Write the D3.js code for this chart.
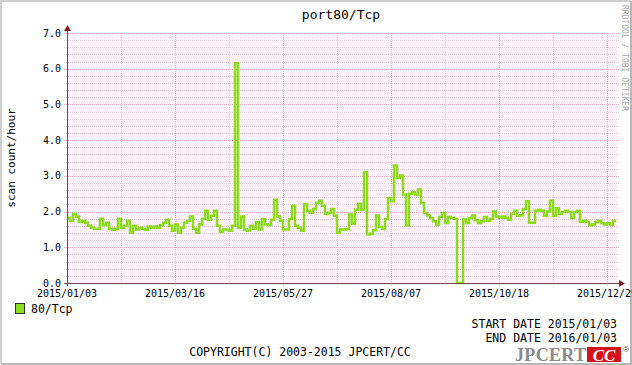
<!DOCTYPE html>
<html><head><meta charset="utf-8">
<script src="https://cdn.jsdelivr.net/npm/d3@7"></script>
<style>html,body{margin:0;padding:0;background:#fff}svg{display:block}</style>
</head><body>
<svg id="c" width="632" height="365"></svg>
<script>
// ---- data ----
const title = "port80/Tcp";
const seriesName = "80/Tcp";
const yLabel = "scan count/hour";
const startDate = "2015-01-03";
const stepDays = 2;
const values = [
1.83,1.74,1.93,1.86,1.71,1.74,1.69,1.60,1.55,1.52,
1.52,1.80,1.62,1.69,1.52,1.49,1.52,1.80,1.55,1.60,
1.74,1.41,1.60,1.50,1.55,1.52,1.49,1.58,1.55,1.58,
1.55,1.62,1.69,1.77,1.60,1.46,1.64,1.41,1.55,1.69,
1.74,1.86,1.52,1.41,1.64,1.79,
2.02,1.77,1.88,2.02,1.60,1.43,1.50,1.50,1.46,1.60,
6.15,1.55,1.86,1.50,1.46,1.60,1.52,1.71,1.50,1.79,
1.64,1.62,1.77,2.33,1.86,1.74,1.50,1.50,1.79,2.16,
1.60,1.55,1.46,2.21,2.02,1.97,2.07,2.25,2.30,2.16,
1.93,1.97,2.07,1.88,1.41,1.50,
1.50,1.51,1.92,1.66,2.06,2.22,2.06,3.10,1.36,1.38,
1.48,1.89,1.57,1.51,1.79,2.38,2.29,3.29,2.94,3.01,
2.48,1.61,2.50,2.54,2.48,2.62,2.24,1.96,1.89,1.82,
1.73,1.64,1.85,1.96,1.68,1.85,1.82,1.79,0,0,
1.78,1.68,1.82,1.89,1.76,1.68,1.73,1.85,
1.74,1.80,2.00,1.86,1.83,1.86,1.83,1.77,1.93,2.02,
1.88,1.90,2.07,2.29,1.69,1.69,2.02,2.05,2.02,1.88,
2.00,2.30,1.88,2.09,1.93,1.99,2.02,1.99,1.83,1.99,
2.02,1.71,1.74,1.71,1.62,1.64,1.71,1.74,1.67,1.64,
1.67,1.64,1.74
];
const xTickLabels = ["2015/01/03","2015/03/16","2015/05/27","2015/08/07","2015/10/18","2015/12/29"];
const xMinorDates = ["2015/02/08","2015/04/21","2015/07/02","2015/09/12","2015/11/23"];
const yTicks = [0,1,2,3,4,5,6,7];
const yMinorStep = 0.2;
const startText = "START DATE 2015/01/03";
const endText = "END DATE 2016/01/03";
const copyright = "COPYRIGHT(C) 2003-2015 JPCERT/CC";

// ---- layout ----
const L = 67, R = 617, T = 33, B = 283;
const DAY = 86400000;
const parse = d3.utcParse("%Y/%m/%d");
const t0 = d3.utcParse("%Y-%m-%d")(startDate);
const x = d3.scaleUtc().domain([t0, new Date(+t0 + (R - L) / 1.5 * DAY)]).range([L, R]);
const y = d3.scaleLinear().domain([0, 7]).range([B, T]);
const mono = "'DejaVu Sans Mono', monospace";

const svg = d3.select("#c");
svg.append("rect").attr("width",632).attr("height",365).attr("fill","#fff");
// frame
svg.append("path").attr("d","M1,364V1H631").attr("fill","none").attr("stroke","#cfcfcf").attr("stroke-width",2);
svg.append("path").attr("d","M631,1V364H1").attr("fill","none").attr("stroke","#b8b8b8").attr("stroke-width",2);

// plot bg
svg.append("rect").attr("x",L).attr("y",T).attr("width",R-L).attr("height",B-T).attr("fill","#fff0fb");

// minor horizontal grid
const minorY = d3.range(0, 7.0001, yMinorStep).filter(v => Math.abs(v - Math.round(v)) > 1e-6);
svg.append("g").selectAll("line").data(minorY).join("line")
  .attr("x1",L-3).attr("x2",R+2).attr("y1",d=>Math.round(y(d))+0.5).attr("y2",d=>Math.round(y(d))+0.5)
  .attr("stroke","#e0d0da").attr("stroke-dasharray","1,1");
// minor vertical grid
svg.append("g").selectAll("line").data(xMinorDates.map(parse)).join("line")
  .attr("x1",d=>Math.round(x(d))+0.5).attr("x2",d=>Math.round(x(d))+0.5).attr("y1",T).attr("y2",B+2)
  .attr("stroke","#e4ccdc").attr("stroke-dasharray","1,1");
// major grid
svg.append("g").selectAll("line").data(yTicks.filter(v=>v>0)).join("line")
  .attr("x1",L-3).attr("x2",R+2).attr("y1",d=>Math.round(y(d))+0.5).attr("y2",d=>Math.round(y(d))+0.5)
  .attr("stroke","#eab0c0").attr("stroke-dasharray","1,1");
svg.append("g").selectAll("line").data(xTickLabels.slice(1).map(parse)).join("line")
  .attr("x1",d=>Math.round(x(d))+0.5).attr("x2",d=>Math.round(x(d))+0.5).attr("y1",T).attr("y2",B+3)
  .attr("stroke","#eab0c0").attr("stroke-dasharray","1,1");

// data line
const pts = values.map((v,i)=>({d:new Date(+t0 + i*stepDays*DAY), v}));
pts.push({d:new Date(+t0 + values.length*stepDays*DAY), v:values[values.length-1]});
svg.append("path").datum(pts)
  .attr("d", d3.line().x(p=>x(p.d)).y(p=>y(p.v)).curve(d3.curveStepAfter))
  .attr("fill","none").attr("stroke","#8cdc1e").attr("stroke-width",2.5).attr("stroke-linejoin","miter");

// axes
svg.append("line").attr("x1",L-3).attr("x2",R+3).attr("y1",B+0.5).attr("y2",B+0.5).attr("stroke","#6e4a4a");
svg.append("line").attr("x1",L+0.5).attr("x2",L+0.5).attr("y1",B+3).attr("y2",T-3).attr("stroke","#6e4a4a");
svg.append("path").attr("d",`M${R+2},${B-3}L${R+8},${B+0.5}L${R+2},${B+4}Z`).attr("fill","#8b1a1a");
svg.append("path").attr("d",`M${L-3},${T-2}L${L+0.5},${T-8}L${L+4},${T-2}Z`).attr("fill","#8b1a1a");

// y labels
svg.append("g").selectAll("text").data(yTicks).join("text")
  .attr("x",61).attr("y",d=>y(d)+3.5).attr("text-anchor","end")
  .attr("font-family",mono).attr("font-size",10).attr("fill","#000")
  .text(d=>d3.format(".1f")(d));
// x labels
svg.append("g").selectAll("text").data(xTickLabels).join("text")
  .attr("x",d=>x(parse(d))).attr("y",297).attr("text-anchor","middle")
  .attr("font-family",mono).attr("font-size",10).attr("fill","#000").text(d=>d);

// title
svg.append("text").attr("x",341).attr("y",19).attr("text-anchor","middle")
  .attr("font-family",mono).attr("font-size",13).attr("fill","#000").text(title);
// y axis title
svg.append("text").attr("transform","translate(15,158) rotate(-90)").attr("text-anchor","middle")
  .attr("font-family",mono).attr("font-size",11).attr("fill","#000").text(yLabel);
// watermark
svg.append("text").attr("transform","translate(622,5) rotate(90)").attr("text-anchor","start")
  .attr("font-family",mono).attr("font-size",8).attr("fill","#aaaaaa").text("RRDTOOL / TOBI OETIKER");

// legend
svg.append("rect").attr("x",15.5).attr("y",303.5).attr("width",9).attr("height",10)
  .attr("fill","#8cdc1e").attr("stroke","#333");
svg.append("text").attr("x",31).attr("y",313).attr("font-family",mono).attr("font-size",11.5).text(seriesName);

// footer
svg.append("text").attr("x",617).attr("y",328).attr("text-anchor","end").attr("font-family",mono).attr("font-size",11.5).text(startText);
svg.append("text").attr("x",617).attr("y",342).attr("text-anchor","end").attr("font-family",mono).attr("font-size",11.5).text(endText);
svg.append("text").attr("x",300).attr("y",356).attr("text-anchor","middle").attr("font-family",mono).attr("font-size",11.5).text(copyright);

// logo
svg.append("text").attr("x",515).attr("y",361).attr("font-family","'Liberation Serif', serif").attr("font-weight","bold")
  .attr("font-size",18).attr("fill","#8a8a8a").attr("textLength",71).text("JPCERT");
svg.append("rect").attr("x",587).attr("y",347).attr("width",34).attr("height",15).attr("fill","#d4121b");
svg.append("text").attr("x",604).attr("y",361).attr("text-anchor","middle").attr("font-family","'Liberation Serif', serif")
  .attr("font-weight","bold").attr("font-style","italic").attr("font-size",17).attr("fill","#fff").text("CC");
svg.append("text").attr("x",623).attr("y",352).attr("font-family","'Liberation Sans', sans-serif").attr("font-size",8).attr("fill","#555").text("®");
</script>
</body></html>
